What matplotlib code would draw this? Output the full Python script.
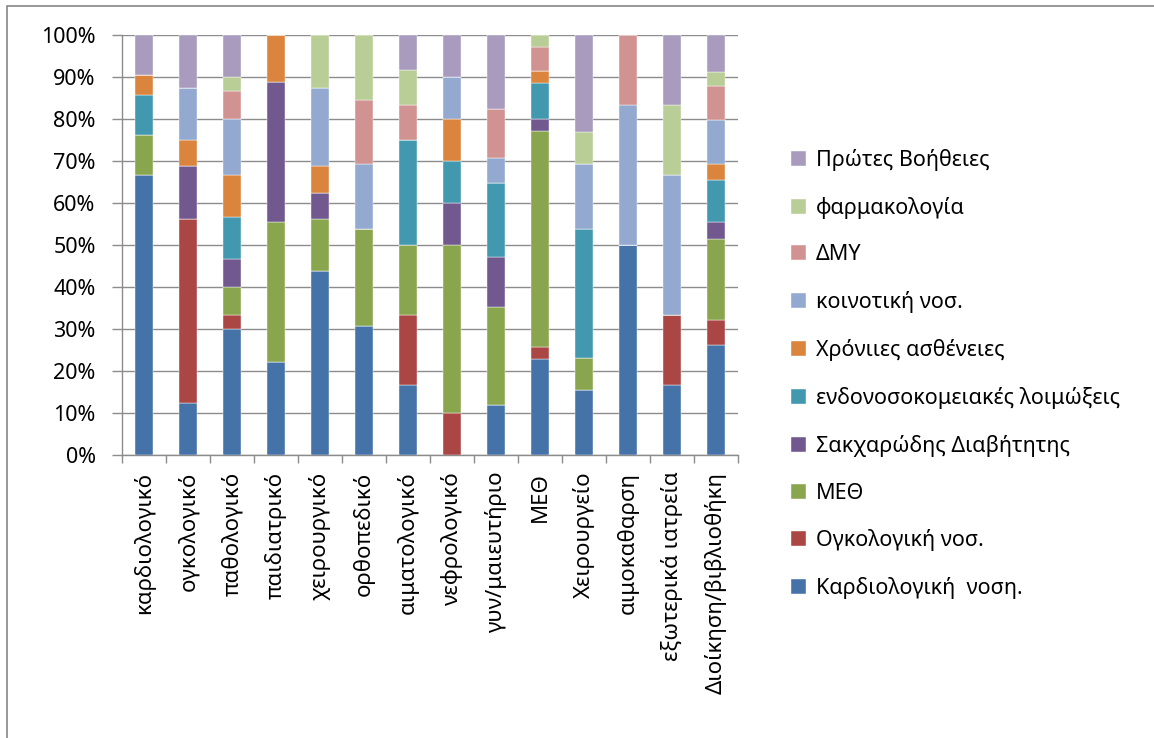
import numpy as np
import matplotlib.pyplot as plt
from matplotlib.patches import Rectangle
from matplotlib.ticker import PercentFormatter, FixedLocator

plt.rcParams['font.family'] = ['Noto Sans', 'DejaVu Sans']

departments = ['καρδιολογικό', 'ογκολογικό', 'παθολογικό', 'παιδιατρικό',
               'χειρουργικό', 'ορθοπεδικό', 'αιματολογικό', 'νεφρολογικό',
               'γυν/μαιευτήριο', 'ΜΕΘ', 'Χειρουργείο', 'αιμοκαθαρση',
               'εξωτερικά ιατρεία', 'Διοίκηση/βιβλιοθήκη']

# share (%) of each topic per department, stacked bottom to top
kardiologiki = [66.7, 12.5, 30.0, 22.2, 43.75, 30.8, 16.7, 0, 11.8, 22.9, 15.4, 50.0, 16.7, 26.3]
ogkologiki = [0, 43.75, 3.3, 0, 0, 0, 16.7, 10.0, 0, 2.8, 0, 0, 16.7, 5.8]
meth = [9.5, 0, 6.7, 33.3, 12.5, 23.1, 16.7, 40.0, 23.5, 51.4, 7.7, 0, 0, 19.4]
diavitis = [0, 12.5, 6.7, 33.3, 6.25, 0, 0, 10.0, 11.8, 2.9, 0, 0, 0, 4.0]
loimoxeis = [9.5, 0, 10.0, 0, 0, 0, 25.0, 10.0, 17.6, 8.6, 30.8, 0, 0, 9.9]
xronies = [4.8, 6.25, 10.0, 11.1, 6.25, 0, 0, 10.0, 0, 2.8, 0, 0, 0, 4.0]
koinotiki = [0, 12.5, 13.3, 0, 18.75, 15.4, 0, 10.0, 5.9, 0, 15.4, 33.3, 33.3, 10.4]
dmy = [0, 0, 6.7, 0, 0, 15.4, 8.3, 0, 11.8, 5.7, 0, 16.7, 0, 8.1]
farmakologia = [0, 0, 3.3, 0, 12.5, 15.4, 8.3, 0, 0, 2.9, 7.7, 0, 16.7, 3.2]
protes_voitheies = [9.5, 12.5, 10.0, 0, 0, 0, 8.3, 10.0, 17.6, 0, 23.1, 0, 16.7, 8.9]

series = [
    ('Καρδιολογική  νοση.', kardiologiki, '#4572A7'),
    ('Ογκολογική νοσ.', ogkologiki, '#AA4643'),
    ('ΜΕΘ', meth, '#89A54E'),
    ('Σακχαρώδης Διαβήτητης', diavitis, '#71588F'),
    ('ενδονοσοκομειακές λοιμώξεις', loimoxeis, '#4198AF'),
    ('Χρόνιιες ασθένειες', xronies, '#DB843D'),
    ('κοινοτική νοσ.', koinotiki, '#93A9CF'),
    ('ΔΜΥ', dmy, '#D19392'),
    ('φαρμακολογία', farmakologia, '#B9CD96'),
    ('Πρώτες Βοήθειες', protes_voitheies, '#A99BBD'),
]

fig = plt.figure(figsize=(11.54, 7.38), dpi=100)
ax = fig.add_axes([122 / 1154, 1 - 455 / 738, 616 / 1154, 420 / 738])

# outer chart frame
fig.patches.append(Rectangle((7 / 1154, -0.05), 1.1, 1 - 6 / 738 + 0.05,
                             transform=fig.transFigure, fill=False,
                             edgecolor='#868686', lw=1.2))

x = np.arange(len(departments))
totals = np.sum([s[1] for s in series], axis=0)
bottom = np.zeros(len(departments))
handles = []
for name, vals, color in series:
    pct = np.array(vals) / totals * 100
    b = ax.bar(x, pct, 0.39, bottom=bottom, color=color, label=name,
               edgecolor='white', linewidth=0.3, zorder=3)
    handles.append(b)
    bottom += pct

ax.set_xlim(-0.5, len(departments) - 0.5)
ax.set_ylim(0, 100)
ax.yaxis.set_major_locator(FixedLocator(np.arange(0, 101, 10)))
ax.yaxis.set_major_formatter(PercentFormatter(decimals=0))
ax.grid(axis='y', color='#8c8c8c', lw=1.0, zorder=0)

ax.set_xticks(x)
ax.set_xticklabels(departments, rotation=90, fontsize=16)
ax.tick_params(axis='x', length=0, pad=12)
ax.set_xticks(np.arange(-0.5, len(departments)), minor=True)
ax.tick_params(axis='x', which='minor', length=6, color='#8c8c8c', width=1)
ax.tick_params(axis='y', labelsize=15.5, length=7, color='#8c8c8c', width=1,
               pad=12)

for side in ['top', 'right']:
    ax.spines[side].set_visible(False)
for side in ['left', 'bottom']:
    ax.spines[side].set_color('#8c8c8c')
    ax.spines[side].set_linewidth(1.0)

ax.legend(handles[::-1], [s[0] for s in series[::-1]],
          loc='center left', bbox_to_anchor=(772 / 1154, 1 - 374 / 738),
          bbox_transform=fig.transFigure, frameon=False, fontsize=15.5,
          handlelength=0.7, handleheight=0.7, handletextpad=0.45,
          labelspacing=1.2)

fig.savefig('out.png', dpi=100)
